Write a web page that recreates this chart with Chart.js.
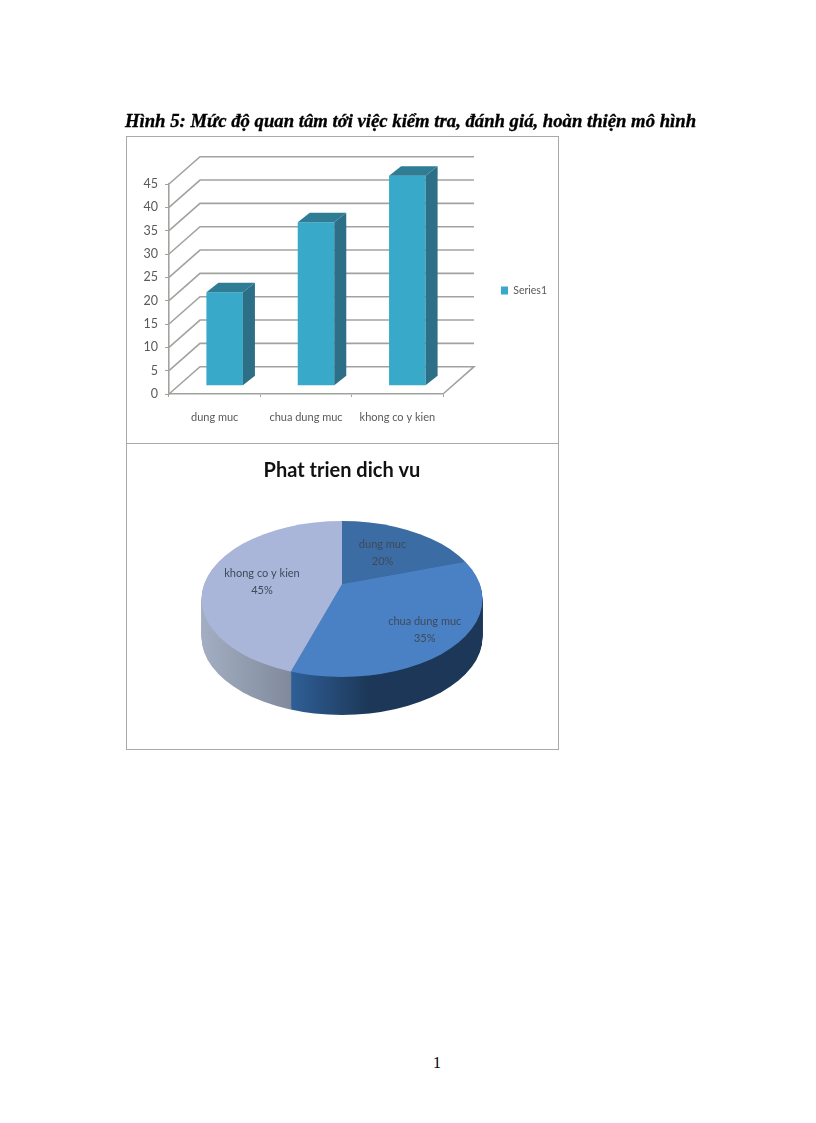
<!DOCTYPE html>
<html>
<head>
<meta charset="utf-8">
<script src="https://cdn.jsdelivr.net/npm/chart.js@4/dist/chart.umd.min.js"></script>
<style>
  html, body { margin: 0; padding: 0; background: #fff; }
  #page { position: relative; width: 816px; height: 1123px; overflow: hidden; }
  #heading { position: absolute; left: 125px; top: 110px; white-space: nowrap;
    font: italic bold 18.7px "Liberation Serif", serif; color: #000;
    -webkit-text-stroke: 0.35px #000; filter: blur(0.3px); }
  #pageNo { position: absolute; left: 433px; top: 1054px; font: 16px "Liberation Serif", serif; color: #000; }
  .frame { position: absolute; left: 126px; width: 431px; border: 1px solid #a8aaa8; box-sizing: content-box; }
  #barFrame { top: 136px; height: 306px; }
  #pieFrame { top: 443px; height: 305px; }
  canvas { position: absolute; left: -1px; top: 0; filter: blur(0.4px); }
  #pieChart { top: -1px; }
</style>
</head>
<body>
<div id="page">
  <div id="heading">Hình 5: Mức độ quan tâm tới việc kiểm tra, đánh giá, hoàn thiện mô hình</div>
  <div class="frame" id="barFrame"><canvas id="barChart" width="432" height="306"></canvas></div>
  <div class="frame" id="pieFrame"><canvas id="pieChart" width="432" height="306"></canvas></div>
  <div id="pageNo">1</div>
</div>
<script>
// du lieu doc tu hinh
const categories = ['dung muc', 'chua dung muc', 'khong co y kien'];
const seriesValues = [20, 35, 45];
const pieValues = [20, 35, 45];
const yTicks = [0, 5, 10, 15, 20, 25, 30, 35, 40, 45];
const pieTitle = 'Phat trien dich vu';

const barColor = '#38a9c9';
const barSide = '#2c6f86';
const barTop = '#2f7d94';
const wallColor = '#a0a49e';
const textColor = '#595959';
const pieColors = ['#3b6ca3', '#4a80c4', '#aab5da'];
const pieSides = [['#2c5582', '#2c5582'], ['#2f5f97', '#1c3757'], ['#a4aec2', '#808a9c']];
const font = 'Lato, "Open Sans", sans-serif';

// tuong va luoi gia 3D, bar lui vao giua chieu sau
const wall = { dx: 31, dy: -27.3 };
const barShift = { dx: 10, dy: -8.3 };
const barDepth = { dx: 12, dy: -9.5 };

const walls3d = {
  id: 'walls3d',
  beforeDatasetsDraw(chart) {
    const { ctx, chartArea: a, scales: { y } } = chart;
    ctx.save();
    ctx.strokeStyle = wallColor;
    ctx.lineWidth = 1.6;
    yTicks.forEach(v => {
      const py = y.getPixelForValue(v);
      ctx.beginPath();
      ctx.moveTo(a.left, py);
      ctx.lineTo(a.left + wall.dx, py + wall.dy);
      if (v === 0) {
        ctx.lineTo(a.right + wall.dx, py + wall.dy);
        ctx.lineTo(a.right, py);
      } else {
        ctx.lineTo(a.right + wall.dx, py + wall.dy);
      }
      ctx.stroke();
    });
    ctx.restore();
  },
  beforeDatasetDraw(chart) {
    chart.ctx.save();
    chart.ctx.translate(barShift.dx, barShift.dy);
  },
  afterDatasetDraw(chart) {
    const ctx = chart.ctx;
    chart.getDatasetMeta(0).data.forEach(bar => {
      const l = bar.x - bar.width / 2, r = bar.x + bar.width / 2;
      ctx.fillStyle = barSide;
      ctx.beginPath();
      ctx.moveTo(r, bar.y);
      ctx.lineTo(r + barDepth.dx, bar.y + barDepth.dy);
      ctx.lineTo(r + barDepth.dx, bar.base + barDepth.dy);
      ctx.lineTo(r, bar.base);
      ctx.fill();
      ctx.fillStyle = barTop;
      ctx.beginPath();
      ctx.moveTo(l, bar.y);
      ctx.lineTo(l + barDepth.dx, bar.y + barDepth.dy);
      ctx.lineTo(r + barDepth.dx, bar.y + barDepth.dy);
      ctx.lineTo(r, bar.y);
      ctx.fill();
    });
    ctx.restore();
  },
  afterLayout(chart) {
    // dat chu giai ben phai vung ve
    const lg = chart.legend;
    const w = lg.width, h = lg.height;
    lg.left = 365; lg.right = lg.left + w;
    lg.top = 153.5 - h / 2; lg.bottom = lg.top + h;
  }
};

new Chart(document.getElementById('barChart'), {
  type: 'bar',
  data: {
    labels: categories,
    datasets: [{
      label: 'Series1',
      data: seriesValues,
      backgroundColor: barColor,
      barPercentage: 0.4,
      categoryPercentage: 1,
      clip: false
    }]
  },
  options: {
    responsive: false,
    animation: false,
    layout: { padding: { top: 47, right: 115, left: 0, bottom: 0 } },
    plugins: {
      legend: {
        position: 'chartArea',
        labels: { boxWidth: 7, boxHeight: 8, padding: 10, color: textColor, font: { family: font, size: 10.5 } }
      },
      tooltip: { enabled: false }
    },
    scales: {
      x: {
        afterFit(s) { s.height = 49; },
        border: { color: wallColor, width: 1.6 },
        grid: { drawOnChartArea: false, color: wallColor, tickLength: 3 },
        ticks: { color: textColor, padding: 14, font: { family: font, size: 11 }, maxRotation: 0 }
      },
      y: {
        min: 0,
        max: 45,
        afterFit(s) { s.width = 43; },
        afterBuildTicks(s) { s.ticks = yTicks.map(value => ({ value })); },
        border: { color: wallColor, width: 1.6 },
        grid: { drawOnChartArea: false, color: wallColor, tickLength: 4 },
        ticks: { color: textColor, padding: 7, font: { family: font, size: 12.5 } }
      }
    }
  },
  plugins: [walls3d]
});

// banh 3D: hinh elip, tam cac la lech len tren tam elip do phoi canh
const pie3d = { rx: 140.5, ry: 78, cy: 156, hubY: 141, depth: 38, squash: 0.555 };
const labelRadius = [69, 117, 81];
const labelNudgeY = [0, 0, 5];

function ellipseClip(ctx, x, y) {
  ctx.beginPath();
  ctx.ellipse(x, y, pie3d.rx, pie3d.ry, 0, 0, Math.PI * 2);
  ctx.clip();
}
function pieTransform(ctx, el, shift) {
  ctx.translate(el.x, pie3d.hubY + shift);
  ctx.scale(1, pie3d.squash);
  ctx.translate(-el.x, -el.y);
}

const piePlugin = {
  id: 'piePlugin',
  beforeDatasetDraw(chart) {
    const ctx = chart.ctx;
    const arcs = chart.getDatasetMeta(0).data;
    const first = arcs[0];
    for (let d = pie3d.depth; d > 0; d--) {
      ctx.save();
      ellipseClip(ctx, first.x, pie3d.cy + d);
      pieTransform(ctx, first, d);
      arcs.forEach((arc, i) => {
        const g = ctx.createLinearGradient(first.x - pie3d.rx, 0, first.x + pie3d.rx, 0);
        const s = pieSides[i];
        if (i === 1) {
          g.addColorStop(0.32, s[0]);
          g.addColorStop(0.6, s[1]);
          g.addColorStop(1, s[1]);
        } else {
          g.addColorStop(0, s[0]);
          g.addColorStop(0.32, s[1]);
        }
        const base = arc.options;
        arc.options = Object.create(base, { backgroundColor: { value: g } });
        arc.draw(ctx);
        arc.options = base;
      });
      ctx.restore();
    }
    ctx.save();
    ellipseClip(ctx, first.x, pie3d.cy);
    pieTransform(ctx, first, 0);
  },
  afterDatasetDraw(chart) {
    const ctx = chart.ctx;
    ctx.restore();
    ctx.save();
    ctx.font = '11px ' + font;
    ctx.fillStyle = '#3f4a5a';
    ctx.textAlign = 'center';
    ctx.textBaseline = 'middle';
    chart.getDatasetMeta(0).data.forEach((arc, i) => {
      const mid = (arc.startAngle + arc.endAngle) / 2;
      const x = arc.x + Math.cos(mid) * labelRadius[i];
      const y = pie3d.hubY + Math.sin(mid) * labelRadius[i] * pie3d.squash + labelNudgeY[i];
      ctx.fillText(categories[i], x, y - 8.5);
      ctx.fillText(pieValues[i] + '%', x, y + 8.5);
    });
    ctx.restore();
  }
};

new Chart(document.getElementById('pieChart'), {
  type: 'pie',
  data: {
    labels: categories,
    datasets: [{
      data: pieValues,
      backgroundColor: pieColors,
      borderWidth: 0,
      radius: 180,
      clip: false
    }]
  },
  options: {
    responsive: false,
    animation: false,
    plugins: {
      legend: { display: false },
      tooltip: { enabled: false },
      title: {
        display: true,
        text: pieTitle,
        color: '#111',
        padding: { top: 16, bottom: 4 },
        font: { family: font, size: 20, weight: 'bold' }
      }
    }
  },
  plugins: [piePlugin]
});
</script>
</body>
</html>
